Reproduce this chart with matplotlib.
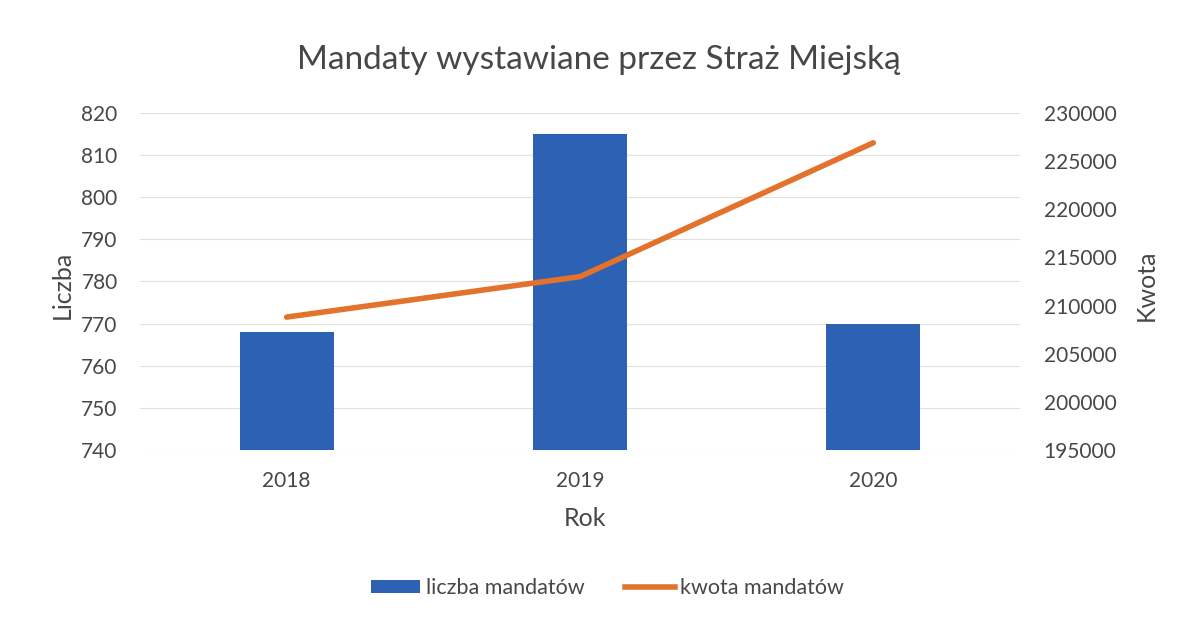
import matplotlib
matplotlib.use("Agg")
import matplotlib.pyplot as plt
import numpy as np
from matplotlib.patches import Patch
from matplotlib.lines import Line2D

years = ["2018", "2019", "2020"]
liczba = [768, 815, 770]
kwota = [208800, 213000, 226900]

plt.rcParams['font.family'] = ['Lato', 'DejaVu Sans']
txt = "#474747"
bar_color = "#2D61B3"
line_color = "#E2722C"

fig = plt.figure(figsize=(11.82, 6.23), dpi=100)
ax = fig.add_axes([0.1184, 0.2777, 0.7445, 0.541])
x = np.arange(len(years))
ax.bar(x, [v - 740 for v in liczba], bottom=740, width=0.32, color=bar_color, zorder=2)
ax.set_ylim(740, 820)
ax.set_yticks(range(740, 821, 10))
ax.set_xlim(-0.5, 2.5)
ax.set_xticks(x)
ax.set_xticklabels(years)
ax.grid(axis='y', color="#e0e0e0", linewidth=0.8, zorder=0)
for s in ax.spines.values():
    s.set_visible(False)
ax.tick_params(axis='y', length=0, labelsize=15, colors=txt, pad=16)
ax.tick_params(axis='x', length=0, labelsize=15, colors=txt, pad=15)
ax.text(-0.0886, 0.49, "Liczba", transform=ax.transAxes, rotation=90, ha='center', va='center',
        fontsize=18, color=txt)
ax.text(0.506, -0.2018, "Rok", transform=ax.transAxes, ha='center', va='center',
        fontsize=18, color=txt)

ax2 = ax.twinx()
ax2.plot(x, kwota, color=line_color, linewidth=4, solid_capstyle='round', zorder=3)
ax2.set_ylim(195000, 230000)
ax2.set_yticks(range(195000, 230001, 5000))
for s in ax2.spines.values():
    s.set_visible(False)
ax2.tick_params(length=0, labelsize=15, colors=txt, pad=17)
ax.text(1.144, 0.49, "Kwota", transform=ax.transAxes, rotation=90, ha='center', va='center',
        fontsize=18, color=txt)

fig.text(0.507, 0.904, "Mandaty wystawiane przez Straż Miejską", fontsize=24, color=txt,
         ha='center', va='center')

handles = [Patch(facecolor=bar_color, label="liczba mandatów"),
           Line2D([0], [0], color=line_color, linewidth=4, label="kwota mandatów")]
fig.legend(handles=handles, loc='center', bbox_to_anchor=(0.514, 0.056), ncol=2, frameon=False,
           fontsize=15.5, labelcolor=txt, handlelength=2.3, handleheight=0.6, handletextpad=0.25,
           columnspacing=1.9)

fig.savefig("out.png", dpi=100)
